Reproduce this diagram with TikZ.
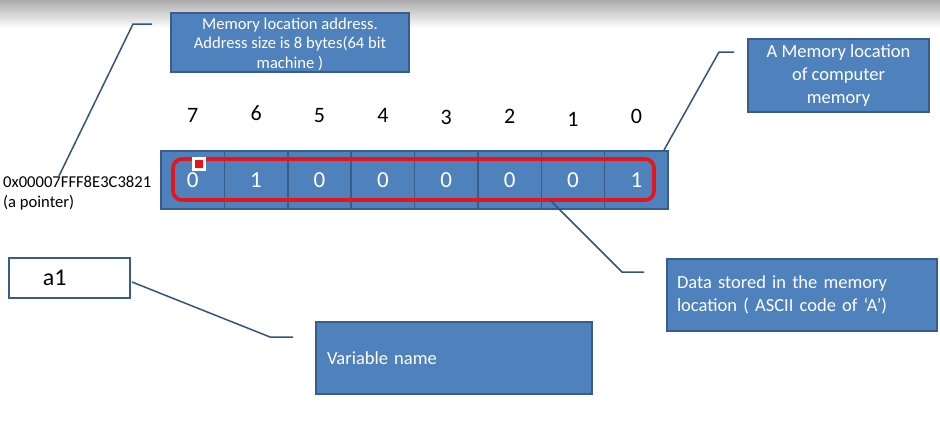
\documentclass[tikz,border=0pt]{standalone}
\usepackage{fontspec}
\setmainfont{Carlito}
\definecolor{boxblue}{HTML}{4F81BD}
\definecolor{boxedge}{HTML}{385D8A}
\definecolor{linecol}{HTML}{34537E}
\definecolor{markred}{HTML}{E8141B}
\begin{document}
\begin{tikzpicture}[x=1pt,y=-1pt,
  bluebox/.style={draw=boxedge, fill=boxblue, line width=1.5pt, text=white, inner sep=0pt},
  cell/.style={draw=boxedge, fill=boxblue, line width=1.5pt, text=white, minimum width=63.4pt, minimum height=58pt, inner sep=0pt, font=\fontsize{23}{27}\selectfont},
  bitnum/.style={text=black, font=\fontsize{22}{26}\selectfont, inner sep=0pt},
  callout/.style={draw=linecol, line width=1.5pt},
  txtA/.style={font=\fontsize{16.6}{19.5}\selectfont},
  txtB/.style={font=\fontsize{18.5}{23}\selectfont},
]
\useasboundingbox (0,0) rectangle (940,421);
\fill[white] (0,0) rectangle (940,421);
\shade[top color=black!33, bottom color=white] (0,0) rectangle (940,28);

% memory cells
\foreach \b/\v [count=\i from 0] in {7/0,6/1,5/0,4/0,3/0,2/0,1/0,0/1}
  \node[cell] (c\b) at ({192.7+63.375*\i},180) {\v};
% bit numbers
\foreach \b/\yy [count=\i from 0] in {7/115,6/113,5/116,4/115,3/117,2/116,1/119,0/116}
  \node[bitnum] (n\b) at ({192.7+63.375*\i},\yy) {\b};

% red outline and cursor mark
\node[draw=markred, line width=3.8pt, rounded corners=9pt, minimum width=481pt, minimum height=41pt, inner sep=0pt] (data) at (413.5,179.5) {};
\node[fill=markred, draw=white, line width=2.5pt, minimum size=11pt, inner sep=0pt] (cursor) at (199,164) {};

% pointer text
\node[anchor=west, align=left, txtA, inner sep=0pt, text=black] (ptr) at (3,193) {0x00007FFF8E3C3821\\(a pointer)};

% blue boxes
\node[bluebox, minimum width=238pt, minimum height=59pt, align=center, txtA] (addr) at (290,42.5)
  {\rule{0pt}{15pt}Memory location address.\\Address size  is 8 bytes(64 bit\\machine )};
\node[bluebox, minimum width=181pt, minimum height=73pt, align=center, txtB] (memloc) at (838.5,75.5)
  {A Memory location\\of computer\\memory};
\node[bluebox, minimum width=270pt, minimum height=72pt, text width=250pt, inner xsep=10pt, align=left, txtB] (stored) at (802,295)
  {Data stored in the memory\\location ( ASCII code of ‘A’)};
\node[bluebox, minimum width=276pt, minimum height=72pt, text width=254pt, inner xsep=11pt, align=left, txtB] (varname) at (454,358)
  {Variable name};

% variable box
\node[draw=boxedge, fill=white, line width=2pt, minimum width=121pt, minimum height=40pt, text width=121pt, inner xsep=0pt, align=left, font=\fontsize{24}{28}\selectfont] (var) at (69.5,278) {\hspace*{34pt}a1};

% callout lines
\coordinate (p1) at (58,178); \coordinate (k1) at (133,24); \coordinate (e1) at (152,24);
\coordinate (p2) at (664,150); \coordinate (k2) at (719,52); \coordinate (e2) at (734,52);
\coordinate (p3) at (550,200); \coordinate (k3) at (622,272); \coordinate (e3) at (644,272);
\coordinate (p4) at (132,282); \coordinate (k4) at (270,337); \coordinate (e4) at (293,337);
\draw[callout] (p1) -- (k1) -- (e1);
\draw[callout] (p2) -- (k2) -- (e2);
\draw[callout] (p3) -- (k3) -- (e3);
\draw[callout] (p4) -- (k4) -- (e4);
\end{tikzpicture}
\end{document}
